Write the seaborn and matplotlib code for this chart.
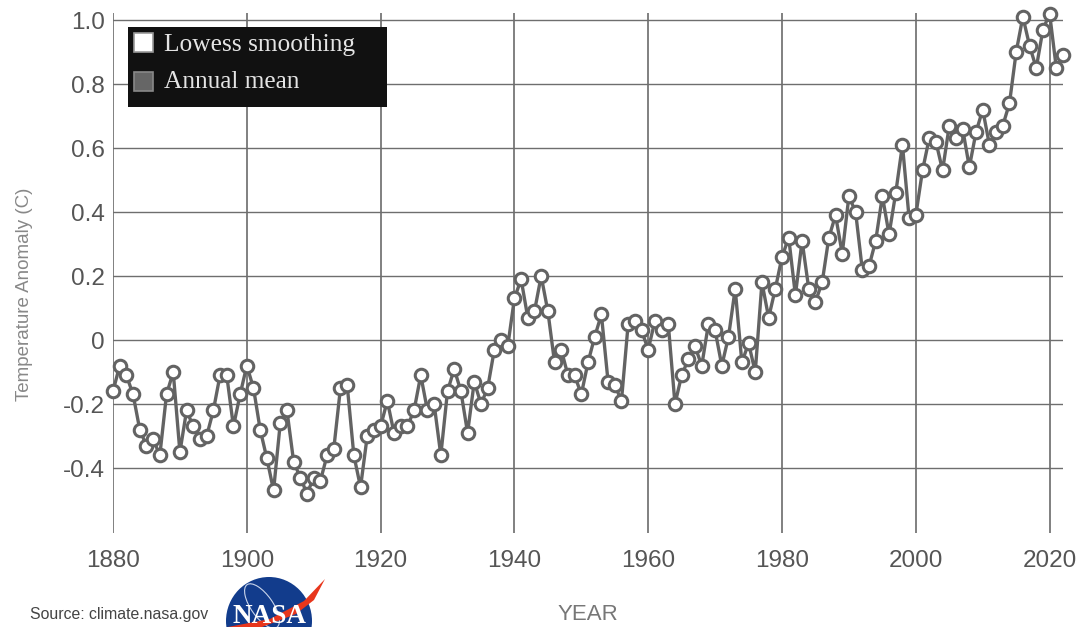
import matplotlib
matplotlib.use('Agg')
import matplotlib.pyplot as plt
from matplotlib.patches import Ellipse, Polygon, Rectangle
import numpy as np
import pandas as pd
import seaborn as sns

# values
years = list(range(1880, 2023))
anomaly = [-.16, -.08, -.11, -.17, -.28, -.33, -.31, -.36, -.17, -.10,
           -.35, -.22, -.27, -.31, -.30, -.22, -.11, -.11, -.27, -.17,
           -.08, -.15, -.28, -.37, -.47, -.26, -.22, -.38, -.43, -.48,
           -.43, -.44, -.36, -.34, -.15, -.14, -.36, -.46, -.30, -.28,
           -.27, -.19, -.29, -.27, -.27, -.22, -.11, -.22, -.20, -.36,
           -.16, -.09, -.16, -.29, -.13, -.20, -.15, -.03, 0.00, -.02,
           .13, .19, .07, .09, .20, .09, -.07, -.03, -.11, -.11,
           -.17, -.07, .01, .08, -.13, -.14, -.19, .05, .06, .03,
           -.03, .06, .03, .05, -.20, -.11, -.06, -.02, -.08, .05,
           .03, -.08, .01, .16, -.07, -.01, -.10, .18, .07, .16,
           .26, .32, .14, .31, .16, .12, .18, .32, .39, .27,
           .45, .40, .22, .23, .31, .45, .33, .46, .61, .38,
           .39, .53, .63, .62, .53, .67, .63, .66, .54, .65,
           .72, .61, .65, .67, .74, .90, 1.01, .92, .85, .97,
           1.02, .85, .89]
x_ticks = [1880, 1900, 1920, 1940, 1960, 1980, 2000, 2020]
y_ticks = [-0.4, -0.2, 0, 0.2, 0.4, 0.6, 0.8, 1.0]
y_labels = ['-0.4', '-0.2', '0', '0.2', '0.4', '0.6', '0.8', '1.0']
legend_labels = ['Lowess smoothing', 'Annual mean']

W, H = 1081, 627
LINE = '#636363'

sns.set_theme(style="whitegrid")
plt.rcParams['font.family'] = ['Liberation Sans', 'DejaVu Sans']

fig = plt.figure(figsize=(W / 100, H / 100), dpi=100)
ax = fig.add_axes([113 / W, 1 - 533 / H, 950 / W, 520 / H])

df = pd.DataFrame({'year': years, 'anomaly': anomaly})
sns.lineplot(data=df, x='year', y='anomaly', ax=ax, color=LINE, linewidth=2.4,
             marker='o', markersize=9, markerfacecolor='white',
             markeredgecolor=LINE, markeredgewidth=2.2, clip_on=False, zorder=3)

ax.set_xlim(1880, 2022)
ax.set_ylim(-0.603, 1.022)
ax.set_xticks(x_ticks)
ax.set_yticks(y_ticks)
ax.set_yticklabels(y_labels)
ax.grid(True, axis='x', color='#808080', linewidth=1.4)
ax.grid(True, axis='y', color='#6e6e6e', linewidth=1.0)
ax.tick_params(axis='both', length=0, labelsize=17.5, labelcolor='#555555')
ax.tick_params(axis='x', pad=12)
ax.tick_params(axis='y', pad=6)
for s in ax.spines.values():
    s.set_visible(False)
ax.set_xlabel('')
ax.set_ylabel('')

# labels outside the axes
fig.text(25 / W, 1 - 294 / H, 'Temperature Anomaly (C)', rotation=90, ha='center', va='center',
         fontsize=13.5, color='#888888')
fig.text(588 / W, 1 - 614 / H, 'YEAR', ha='center', va='center', fontsize=16, color='#777777')
fig.text(30 / W, 1 - 615 / H, 'Source: climate.nasa.gov', ha='left', va='center',
         fontsize=11.4, color='#444444')

# overlay in figure pixels for the legend box and the logo
over = fig.add_axes([0, 0, 1, 1], zorder=6)
over.set_xlim(0, W)
over.set_ylim(H, 0)
over.axis('off')
over.patch.set_alpha(0)

# legend box is wider than its text, so it is drawn by hand
over.add_patch(Rectangle((128, 27), 259, 80, facecolor='#111111', edgecolor='none'))
over.add_patch(Rectangle((134, 33), 19, 19, facecolor='white', edgecolor='#999999', linewidth=1.2))
over.add_patch(Rectangle((134, 72), 19, 19, facecolor='#666666', edgecolor='#888888', linewidth=1.2))
over.text(164, 45, legend_labels[0], ha='left', va='center', fontsize=18.3,
          color='#e4e4e4', family='Liberation Serif')
over.text(164, 82, legend_labels[1], ha='left', va='center', fontsize=18.3,
          color='#e4e4e4', family='Liberation Serif')

# NASA logo, its disc cut by the bottom edge of the figure
over.add_patch(Ellipse((269, 621), 86, 88, facecolor='#123c8c', edgecolor='none'))
over.add_patch(Ellipse((262, 606), 22, 52, angle=-35, facecolor='none', edgecolor='#c8d4ea', linewidth=0.8))
over.add_patch(Polygon([(325, 579), (304, 601), (270, 619), (228, 627), (262, 627), (296, 614), (314, 600)],
                       facecolor='#e8361c', edgecolor='none'))
over.text(269.5, 616.3, 'NASA', ha='center', va='center', fontsize=19.5, fontweight='bold',
          color='white', family='Liberation Serif')

fig.savefig('out.png', dpi=100)
